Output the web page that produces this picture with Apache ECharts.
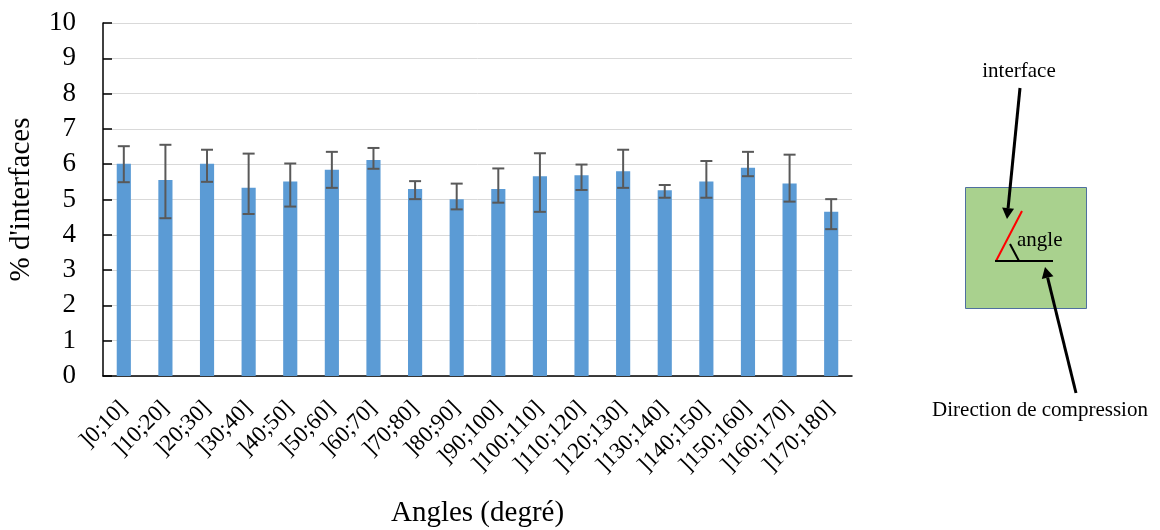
<!DOCTYPE html>
<html>
<head>
<meta charset="utf-8">
<script src="https://cdn.jsdelivr.net/npm/echarts@6/dist/echarts.min.js"></script>
<style>
html,body{margin:0;padding:0;background:#fff;}
#chart{width:1160px;height:530px;}
</style>
</head>
<body>
<div id="chart"></div>
<script>
const categories = [']0;10]', ']10;20]', ']20;30]', ']30;40]', ']40;50]', ']50;60]', ']60;70]', ']70;80]', ']80;90]',
  ']90;100]', ']100;110]', ']110;120]', ']120;130]', ']130;140]', ']140;150]', ']150;160]', ']160;170]', ']170;180]'];
const values =    [6.01, 5.55, 6.01, 5.33, 5.51, 5.84, 6.12, 5.30, 5.01, 5.30, 5.66, 5.69, 5.80, 5.26, 5.51, 5.90, 5.45, 4.65];
const errorHigh = [6.51, 6.55, 6.41, 6.30, 6.02, 6.35, 6.46, 5.52, 5.45, 5.88, 6.31, 5.99, 6.41, 5.41, 6.09, 6.35, 6.27, 5.01];
const errorLow =  [5.49, 4.47, 5.50, 4.59, 4.80, 5.33, 5.87, 5.01, 4.72, 4.91, 4.65, 5.27, 5.33, 5.05, 5.05, 5.66, 4.94, 4.16];
const yTicks = [0, 1, 2, 3, 4, 5, 6, 7, 8, 9, 10];

const FONT = '"Liberation Serif", "Times New Roman", serif';

function arrow(x1, y1, x2, y2) {
  const ang = Math.atan2(y2 - y1, x2 - x1);
  const hl = 11, hw = 6;
  const bx = x2 - hl * Math.cos(ang), by = y2 - hl * Math.sin(ang);
  const px = -Math.sin(ang), py = Math.cos(ang);
  return [
    {type: 'line', shape: {x1: x1, y1: y1, x2: bx, y2: by}, style: {stroke: '#000', lineWidth: 3}},
    {type: 'polygon', shape: {points: [[x2, y2], [bx + px * hw, by + py * hw], [bx - px * hw, by - py * hw]]}, style: {fill: '#000'}}
  ];
}

const graphics = [
  {type: 'rect', shape: {x: 965.5, y: 187.5, width: 121, height: 121}, style: {fill: '#a9d18e', stroke: '#4f6f9f', lineWidth: 1}},
  {type: 'line', shape: {x1: 996, y1: 261, x2: 1022, y2: 211}, style: {stroke: '#ff0000', lineWidth: 2}},
  {type: 'line', shape: {x1: 995, y1: 261, x2: 1053, y2: 261}, style: {stroke: '#000', lineWidth: 2}},
  {type: 'line', shape: {x1: 1010, y1: 244, x2: 1019, y2: 261}, style: {stroke: '#000', lineWidth: 2}},
  {type: 'text', x: 1017, y: 240, style: {text: 'angle', font: '21px ' + FONT, fill: '#000', textAlign: 'left', textVerticalAlign: 'middle'}},
  {type: 'text', x: 1019, y: 71, style: {text: 'interface', font: '21px ' + FONT, fill: '#000', textAlign: 'center', textVerticalAlign: 'middle'}},
  {type: 'text', x: 1040, y: 410, style: {text: 'Direction de compression', font: '21px ' + FONT, fill: '#000', textAlign: 'center', textVerticalAlign: 'middle'}}
].concat(arrow(1020, 88, 1007, 219)).concat(arrow(1076, 393, 1045, 267));

const chart = echarts.init(document.getElementById('chart'), null, {renderer: 'canvas'});
chart.setOption({
  animation: false,
  backgroundColor: '#fff',
  textStyle: {fontFamily: FONT},
  grid: {left: 103, right: 308, top: 23, bottom: 154, containLabel: false, outerBoundsMode: 'none'},
  xAxis: {
    type: 'category',
    data: categories,
    name: 'Angles (degré)',
    nameLocation: 'middle',
    nameGap: 123,
    nameTextStyle: {fontFamily: FONT, fontSize: 29, color: '#000'},
    axisLine: {lineStyle: {color: '#000', width: 1.5}},
    axisTick: {show: false},
    axisLabel: {rotate: 45, interval: 0, margin: 29, fontFamily: FONT, fontSize: 23, color: '#000'}
  },
  yAxis: {
    type: 'value',
    min: yTicks[0],
    max: yTicks[yTicks.length - 1],
    interval: 1,
    name: "% d'interfaces",
    nameLocation: 'middle',
    nameGap: 67,
    nameTextStyle: {fontFamily: FONT, fontSize: 29, color: '#000'},
    axisLine: {show: true, lineStyle: {color: '#000', width: 1.5}},
    axisTick: {show: true, inside: true, length: 9, lineStyle: {color: '#000', width: 1.5}},
    axisLabel: {margin: 27, fontFamily: FONT, fontSize: 27, color: '#000'},
    splitLine: {lineStyle: {color: '#d9d9d9', width: 1}}
  },
  series: [
    {
      type: 'bar',
      data: values,
      barWidth: '34%',
      itemStyle: {color: '#5b9bd5'},
      z: 2
    },
    {
      type: 'custom',
      data: categories.map((c, i) => [i, errorLow[i], errorHigh[i]]),
      z: 3,
      renderItem: function (params, api) {
        const lo = api.coord([api.value(0), api.value(1)]);
        const hi = api.coord([api.value(0), api.value(2)]);
        const cap = 6;
        const st = {stroke: '#595959', lineWidth: 2};
        return {
          type: 'group',
          children: [
            {type: 'line', shape: {x1: hi[0], y1: hi[1], x2: lo[0], y2: lo[1]}, style: st},
            {type: 'line', shape: {x1: hi[0] - cap, y1: hi[1], x2: hi[0] + cap, y2: hi[1]}, style: st},
            {type: 'line', shape: {x1: lo[0] - cap, y1: lo[1], x2: lo[0] + cap, y2: lo[1]}, style: st}
          ]
        };
      }
    }
  ],
  graphic: graphics
});
</script>
</body>
</html>
